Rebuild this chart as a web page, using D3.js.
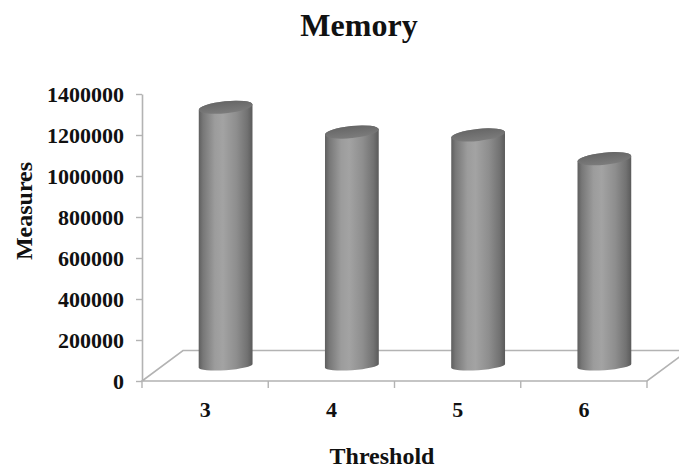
<!DOCTYPE html>
<html>
<head>
<meta charset="utf-8">
<script src="https://cdn.jsdelivr.net/npm/d3@7"></script>
<style>
  html, body { margin: 0; padding: 0; background: #fff; }
  svg { display: block; }
  text { font-family: "Liberation Serif", "Times New Roman", serif; font-weight: bold; fill: #111; }
</style>
</head>
<body>
<script>
// Chart data
const categories = ["3", "4", "5", "6"];
const values = [1261000, 1140000, 1126000, 1010000];
const yTickValues = [0, 200000, 400000, 600000, 800000, 1000000, 1200000, 1400000];
const chartTitle = "Memory";
const xTitle = "Threshold";
const yTitle = "Measures";

const W = 679, H = 470;
const plot = { left: 142, right: 647, top: 94, bottom: 381 };
const depth = { dx: 41, dy: -30.5 };   // oblique offset of the floor's back edge

const svg = d3.select("body").append("svg")
  .attr("width", W).attr("height", H);

const defs = svg.append("defs");
const bodyGrad = defs.append("linearGradient").attr("id", "cylBody")
  .attr("x1", "0%").attr("x2", "100%").attr("y1", "0%").attr("y2", "0%");
[[0, "#5e5e5e"], [0.08, "#777"], [0.3, "#9c9c9c"], [0.45, "#a3a3a3"],
 [0.7, "#8e8e8e"], [0.9, "#727272"], [1, "#5a5a5a"]]
  .forEach(([o, c]) => bodyGrad.append("stop").attr("offset", o).attr("stop-color", c));
const topGrad = defs.append("linearGradient").attr("id", "cylTop")
  .attr("x1", "0%").attr("x2", "0%").attr("y1", "0%").attr("y2", "100%");
[[0, "#666"], [1, "#7c7c7c"]]
  .forEach(([o, c]) => topGrad.append("stop").attr("offset", o).attr("stop-color", c));

const x = d3.scaleBand().domain(categories).range([plot.left, plot.right]).padding(0);
const y = d3.scaleLinear().domain([0, 1400000]).range([plot.bottom, plot.top]);

// Floor of the 3-D plot area
const floorPts = [
  [plot.left, plot.bottom], [plot.right, plot.bottom],
  [plot.right + depth.dx, plot.bottom + depth.dy], [plot.left + depth.dx, plot.bottom + depth.dy]
];
svg.append("path")
  .attr("d", d3.line()(floorPts) + "Z")
  .attr("fill", "none").attr("stroke", "#b3b3b3").attr("stroke-width", 1.6);

// Category tick marks along the front edge
const bounds = categories.map(c => x(c)).concat([x(categories[categories.length - 1]) + x.bandwidth()]);
svg.append("g").selectAll("line").data(bounds).join("line")
  .attr("x1", d => d).attr("x2", d => d)
  .attr("y1", plot.bottom).attr("y2", plot.bottom + 7)
  .attr("stroke", "#b3b3b3").attr("stroke-width", 1.4);

// Value axis
const yAxis = svg.append("g")
  .attr("transform", `translate(${plot.left},0)`)
  .call(d3.axisLeft(y).tickValues(yTickValues).tickSize(6).tickPadding(12)
    .tickSizeOuter(0).tickFormat(d3.format("d")));
yAxis.select(".domain").attr("stroke", "#b3b3b3").attr("stroke-width", 1.6);
yAxis.selectAll(".tick line").attr("stroke", "#b3b3b3").attr("stroke-width", 1.4);
yAxis.selectAll(".tick text")
  .style("font-family", "'Liberation Serif', 'Times New Roman', serif")
  .style("font-weight", "bold").style("font-size", "22px").attr("fill", "#111");

// Category labels
svg.append("g").selectAll("text").data(categories).join("text")
  .attr("x", d => x(d) + x.bandwidth() / 2)
  .attr("y", 417)
  .attr("text-anchor", "middle")
  .style("font-size", "22px")
  .text(d => d);

// Cylinders
const r = 27;
const ryTop = 6, ryBase = 4.5;
const tiltTop = -6, tiltBase = -4;
function ellPt(cx, cy, rx, ry, tiltDeg, t) {
  const a = tiltDeg * Math.PI / 180;
  return [cx + rx * Math.cos(t) * Math.cos(a) - ry * Math.sin(t) * Math.sin(a),
          cy + rx * Math.cos(t) * Math.sin(a) + ry * Math.sin(t) * Math.cos(a)];
}
const cyl = svg.append("g").selectAll("g")
  .data(categories.map((c, i) => ({ c, v: values[i] })))
  .join("g");

cyl.each(function (d) {
  const g = d3.select(this);
  const cx = x(d.c) + x.bandwidth() / 2 + depth.dx / 2;
  const yb = y(0) + depth.dy / 2;
  const yt = y(d.v) + depth.dy / 2;
  const tl = ellPt(cx, yt, r, ryTop, tiltTop, Math.PI);
  const tr = ellPt(cx, yt, r, ryTop, tiltTop, 0);
  const bl = ellPt(cx, yb, r, ryBase, tiltBase, Math.PI);
  const br = ellPt(cx, yb, r, ryBase, tiltBase, 0);
  const body = `M${tl[0]},${tl[1]} L${bl[0]},${bl[1]} ` +
    `A${r},${ryBase} ${tiltBase} 0 0 ${br[0]},${br[1]} ` +
    `L${tr[0]},${tr[1]} A${r},${ryTop} ${tiltTop} 0 0 ${tl[0]},${tl[1]} Z`;
  g.append("path").attr("d", body).attr("fill", "url(#cylBody)");
  g.append("ellipse")
    .attr("cx", cx).attr("cy", yt).attr("rx", r).attr("ry", ryTop)
    .attr("transform", `rotate(${tiltTop},${cx},${yt})`)
    .attr("fill", "url(#cylTop)");
});

// Titles
svg.append("text").attr("x", 359).attr("y", 36).attr("text-anchor", "middle")
  .style("font-size", "32px").text(chartTitle);
svg.append("text").attr("x", 382).attr("y", 464).attr("text-anchor", "middle")
  .style("font-size", "24px").text(xTitle);
svg.append("text").attr("transform", "translate(32,211) rotate(-90)")
  .attr("text-anchor", "middle").style("font-size", "24px").text(yTitle);
</script>
</body>
</html>
